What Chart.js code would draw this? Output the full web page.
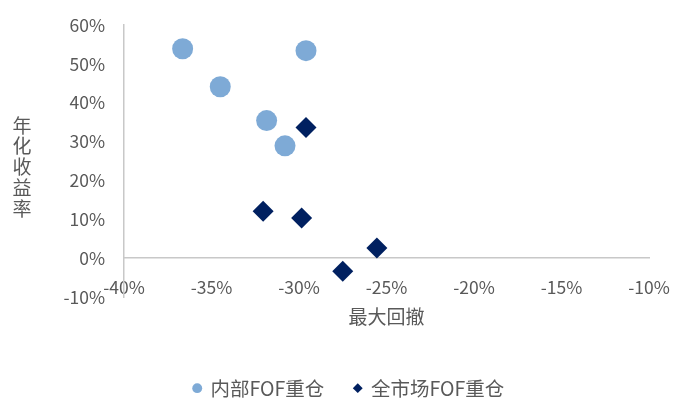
<!DOCTYPE html>
<html lang="zh">

<head>
    <meta charset="UTF-8">
    <title>最大回撤与年化收益率</title>
    <style>
        body {
            margin: 0;
            background: #fff;
        }

        #wrap {
            width: 681px;
            height: 408px;
        }
    </style>
</head>

<body>
    <div id="wrap">
        <canvas id="myCanvas" width="681" height="408"></canvas>
    </div>
    <script src="https://cdn.jsdelivr.net/npm/chart.js@4/dist/chart.umd.min.js"></script>
    <script>
        // values in percent
        const seriesNames = ['内部FOF重仓', '全市场FOF重仓'];
        const innerDrawdown = [-36.65, -29.6, -34.5, -31.85, -30.8];
        const innerReturn = [53.9, 53.4, 44.1, 35.4, 28.9];
        const marketDrawdown = [-29.6, -32.05, -29.85, -27.5, -25.55];
        const marketReturn = [33.6, 12.1, 10.3, -3.4, 2.6];
        const xTitle = '最大回撤';
        const yTitle = '年化收益率';

        const grey = '#595959';
        const axisGrey = '#c8c8c8';
        const font = "'Noto Sans CJK SC', Lato, sans-serif";

        const toPoints = (xs, ys) => xs.map((x, i) => ({ x: x, y: ys[i] }));

        // axis titles: y title is stacked character by character
        const axisTitles = {
            id: 'axisTitles',
            afterDraw(chart) {
                const { ctx, chartArea } = chart;
                ctx.save();
                ctx.fillStyle = grey;
                ctx.font = '19px ' + font;
                ctx.textAlign = 'center';
                ctx.textBaseline = 'middle';
                ctx.fillText(xTitle, (chartArea.left + chartArea.right) / 2, chartArea.bottom + 20);

                const chars = yTitle.split('');
                const step = 20.8;
                const midY = (chartArea.top + chartArea.bottom) / 2 + 6;
                chars.forEach((c, i) => {
                    ctx.fillText(c, 22, midY + (i - (chars.length - 1) / 2) * step);
                });
                ctx.restore();
            }
        };

        // fixed legend height so the plot bottom lands where it should
        const legendHeight = {
            id: 'legendHeight',
            beforeInit(chart) {
                const fit = chart.legend.fit;
                chart.legend.fit = function () {
                    fit.bind(chart.legend)();
                    this.height = 111;
                };
            }
        };

        new Chart(document.getElementById('myCanvas'), {
            type: 'scatter',
            data: {
                datasets: [{
                    label: seriesNames[0],
                    data: toPoints(innerDrawdown, innerReturn),
                    backgroundColor: '#7eaad6',
                    borderColor: '#7eaad6',
                    borderWidth: 0,
                    pointStyle: 'circle',
                    pointRadius: 10.5,
                    pointHoverRadius: 10.5
                }, {
                    label: seriesNames[1],
                    data: toPoints(marketDrawdown, marketReturn),
                    backgroundColor: '#002060',
                    borderColor: '#002060',
                    borderWidth: 0,
                    pointStyle: 'rectRot',
                    pointRadius: 10.5,
                    pointHoverRadius: 10.5
                }]
            },
            options: {
                responsive: false,
                animation: false,
                layout: {
                    padding: { left: 49, right: 32, top: 25, bottom: 0 }
                },
                scales: {
                    x: {
                        type: 'linear',
                        position: { y: 0 },
                        min: -40,
                        max: -10,
                        afterFit(scale) {
                            // labels may run past the plot edge
                            scale.paddingLeft = 0;
                            scale.paddingRight = 0;
                        },
                        grid: { display: false, drawTicks: false },
                        border: { display: true, color: axisGrey, width: 1.5 },
                        ticks: {
                            stepSize: 5,
                            padding: 19,
                            color: grey,
                            font: { family: font, size: 17.5 },
                            callback: v => v + '%'
                        }
                    },
                    y: {
                        type: 'linear',
                        min: -10,
                        max: 60,
                        afterFit(scale) {
                            scale.width = 75;
                            scale.paddingTop = 0;
                            scale.paddingBottom = 0;
                        },
                        grid: { display: false, drawTicks: false },
                        border: { display: true, color: axisGrey, width: 1.5 },
                        ticks: {
                            stepSize: 10,
                            padding: 19,
                            color: grey,
                            font: { family: font, size: 17.5 },
                            callback: v => v + '%'
                        }
                    }
                },
                plugins: {
                    tooltip: { enabled: false },
                    legend: {
                        position: 'bottom',
                        title: {
                            display: true,
                            text: ' ',
                            font: { size: 12 },
                            padding: { top: 37, bottom: 0 }
                        },
                        labels: {
                            usePointStyle: true,
                            boxWidth: 7,
                            boxHeight: 7,
                            padding: 30,
                            color: grey,
                            font: { family: font, size: 19.5 }
                        }
                    }
                }
            },
            plugins: [axisTitles, legendHeight]
        });
    </script>
</body>

</html>
